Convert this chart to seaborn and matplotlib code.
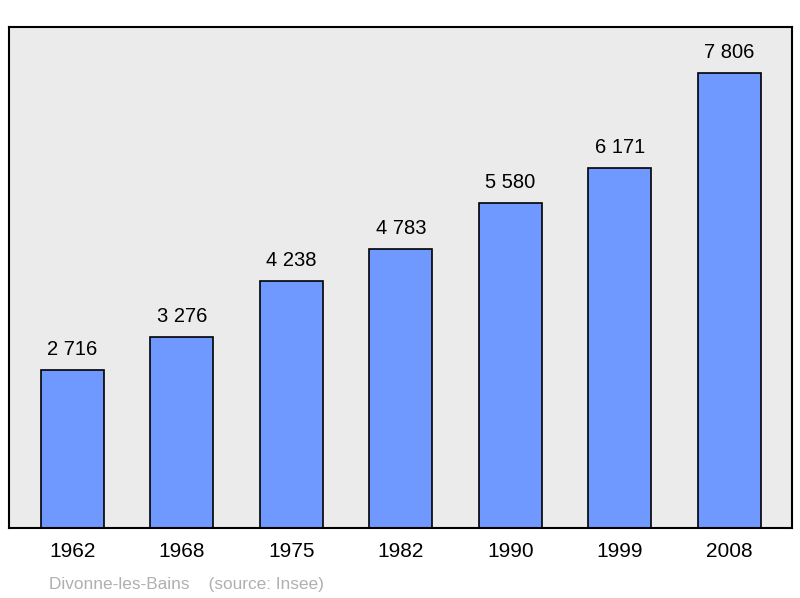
import matplotlib
matplotlib.use("Agg")
import matplotlib.pyplot as plt
import seaborn as sns
import pandas as pd

years = ["1962", "1968", "1975", "1982", "1990", "1999", "2008"]
population = [2716, 3276, 4238, 4783, 5580, 6171, 7806]
labels = ["2 716", "3 276", "4 238", "4 783", "5 580", "6 171", "7 806"]

df = pd.DataFrame({"year": years, "pop": population})

fig = plt.figure(figsize=(8, 5.98), dpi=100)
ax = fig.add_axes([9/800, 70/598, 783/800, 501/598])
ax.set_facecolor("#ebebeb")
sns.barplot(data=df, x="year", y="pop", color="#7099ff", saturation=1,
            width=0.575, edgecolor="black", linewidth=1.2, ax=ax)
ax.set_xlim(-0.58, 6.575)
ax.set_ylim(0, 8595)
for i, (v, t) in enumerate(zip(population, labels)):
    ax.annotate(t, (i, v), xytext=(0, 8), textcoords="offset points",
                ha="center", va="bottom", fontsize=14.5, family="Liberation Sans")
ax.set_yticks([])
ax.set_xlabel("")
ax.set_ylabel("")
ax.tick_params(axis="x", length=0, pad=10, labelsize=15)
for lab in ax.get_xticklabels():
    lab.set_family("Liberation Sans")
for s in ax.spines.values():
    s.set_linewidth(1.5)
    s.set_color("black")
fig.text(49/800, 1 - 584/598, "Divonne-les-Bains    (source: Insee)", color="#b0b0b0",
         fontsize=12.4, family="Liberation Sans", va="center")
fig.savefig("out.png", dpi=100)
